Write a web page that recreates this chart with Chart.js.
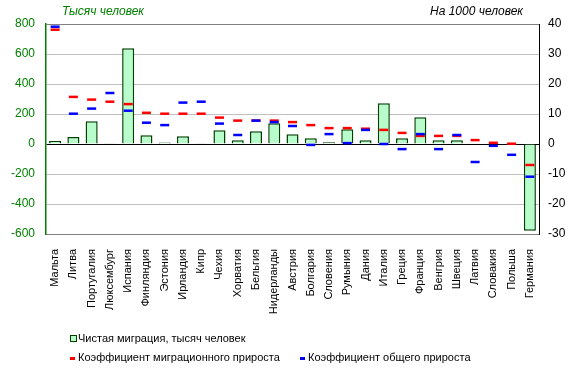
<!DOCTYPE html>
<html>
<head>
<meta charset="utf-8">
<script src="https://cdn.jsdelivr.net/npm/chart.js@4.4.0/dist/chart.umd.min.js"></script>
<style>
  html, body { margin: 0; padding: 0; background: #fff; }
  #wrap { width: 579px; height: 372px; position: relative; }
</style>
</head>
<body>
<div id="wrap"><canvas id="grafica"></canvas></div>
<script>
// datos
var paises = ['Мальта', 'Литва', 'Португалия', 'Люксембург', 'Испания', 'Финляндия', 'Эстония',
  'Ирландия', 'Кипр', 'Чехия', 'Хорватия', 'Бельгия', 'Нидерланды', 'Австрия', 'Болгария',
  'Словения', 'Румыния', 'Дания', 'Италия', 'Греция', 'Франция', 'Венгрия', 'Швеция',
  'Латвия', 'Словакия', 'Польша', 'Германия'];
var migracionNeta = [20, 47, 151, 5, 638, 58, 10, 51, 5, 91, 25, 85, 138, 65, 38, 11, 98, 25, 271, 38, 178, 25, 25, 3, 2, 1, -578];
var coefMigracion = [38.1, 15.7, 14.8, 14.1, 13.3, 10.4, 10.1, 10.1, 10.1, 8.8, 7.8, 7.8, 7.8, 7.3, 6.3, 5.3, 5.3, 5.1, 4.7, 3.7, 2.7, 2.7, 2.7, 1.3, 0.4, 0.1, -7];
var coefTotal = [39.1, 10.1, 11.8, 17, 11.1, 7.1, 6.3, 13.8, 14.1, 6.8, 3, 7.8, 7.3, 6, -0.3, 3.3, 0.3, 4.7, 0, -1.7, 3.3, -1.7, 3, -6, -0.6, -3.6, -10.9];
var ticksIzq = [-600, -400, -200, 0, 200, 400, 600, 800];
var ticksDer = [-30, -20, -10, 0, 10, 20, 30, 40];

var fuente = 'Liberation Sans, Arial, sans-serif';
var verdeBarra = '#b9fccb';
var bordeBarra = '#004000';

// titulos y leyenda dibujados a mano
var pluginTextos = {
  id: 'textos',
  afterDraw: function(chart){
    var ctx = chart.ctx;
    var ds = chart.data.datasets;
    ctx.save();
    ctx.font = 'italic 12px ' + fuente;
    ctx.textBaseline = 'middle';
    ctx.textAlign = 'left';
    ctx.fillStyle = '#008000';
    ctx.fillText('Тысяч человек', 62, 12);
    ctx.fillStyle = '#000';
    ctx.fillText('На 1000 человек', 430, 12);

    ctx.font = '11px ' + fuente;
    // leyenda
    ctx.fillStyle = verdeBarra;
    ctx.fillRect(70, 335, 7, 7);
    ctx.strokeStyle = bordeBarra;
    ctx.lineWidth = 1;
    ctx.strokeRect(70.5, 335.5, 6, 6);
    ctx.fillStyle = '#000';
    ctx.fillText(ds[0].label, 78, 339);

    ctx.fillStyle = '#ff0000';
    ctx.fillRect(70, 357, 5, 3);
    ctx.fillStyle = '#000';
    ctx.fillText(ds[1].label, 78, 358);

    ctx.fillStyle = '#0000ff';
    ctx.fillRect(300, 357, 5, 3);
    ctx.fillStyle = '#000';
    ctx.fillText(ds[2].label, 308, 358);
    ctx.restore();
  }
};

var ctxGrafica = document.getElementById('grafica').getContext('2d');
var grafica = new Chart(ctxGrafica, {
  type: 'bar',
  data: {
    labels: paises,
    datasets: [
      {
        label: 'Чистая миграция, тысяч человек',
        data: migracionNeta,
        yAxisID: 'y',
        backgroundColor: verdeBarra,
        borderColor: bordeBarra,
        borderWidth: 1.5,
        categoryPercentage: 1,
        barPercentage: 0.66,
        order: 3
      },
      {
        type: 'line',
        label: 'Коэффициент миграционного прироста',
        data: coefMigracion,
        yAxisID: 'y1',
        showLine: false,
        pointStyle: 'line',
        pointRadius: 4.5,
        pointBorderWidth: 2.5,
        borderColor: '#ff0000',
        backgroundColor: '#ff0000',
        order: 2
      },
      {
        type: 'line',
        label: 'Коэффициент общего прироста',
        data: coefTotal,
        yAxisID: 'y1',
        showLine: false,
        pointStyle: 'line',
        pointRadius: 4.5,
        pointBorderWidth: 2.5,
        borderColor: '#0000ff',
        backgroundColor: '#0000ff',
        order: 1
      }
    ]
  },
  options: {
    responsive: true,
    maintainAspectRatio: false,
    animation: false,
    layout: { padding: { top: 24, left: 0, right: 0, bottom: 0 } },
    plugins: {
      legend: { display: false },
      tooltip: { enabled: false }
    },
    scales: {
      x: {
        grid: { display: false },
        border: { color: '#808080' },
        ticks: {
          color: '#000',
          font: { family: fuente, size: 11 },
          minRotation: 90,
          maxRotation: 90,
          autoSkip: false,
          padding: 7
        },
        afterFit: function(scale){ scale.height = 138; }
      },
      y: {
        position: 'left',
        min: -600,
        max: 800,
        afterBuildTicks: function(scale){
          scale.ticks = ticksIzq.map(function(v){ return { value: v }; });
        },
        grid: {
          drawTicks: false,
          color: function(c){
            if (c.tick.value === 0) return '#000';
            if (c.tick.value === 800) return '#808080';
            return '#c0c0c0';
          },
          lineWidth: 1
        },
        border: { color: '#008000', width: 1.5 },
        ticks: {
          color: '#008000',
          font: { family: fuente, size: 12 },
          padding: 11
        },
        afterFit: function(scale){ scale.width = 46; }
      },
      y1: {
        position: 'right',
        min: -30,
        max: 40,
        afterBuildTicks: function(scale){
          scale.ticks = ticksDer.map(function(v){ return { value: v }; });
        },
        grid: { display: false, drawTicks: false },
        border: { color: '#000', width: 1 },
        ticks: {
          color: '#000',
          font: { family: fuente, size: 12 },
          padding: 9
        },
        afterFit: function(scale){ scale.width = 40; }
      }
    }
  },
  plugins: [pluginTextos]
});
</script>
</body>
</html>
